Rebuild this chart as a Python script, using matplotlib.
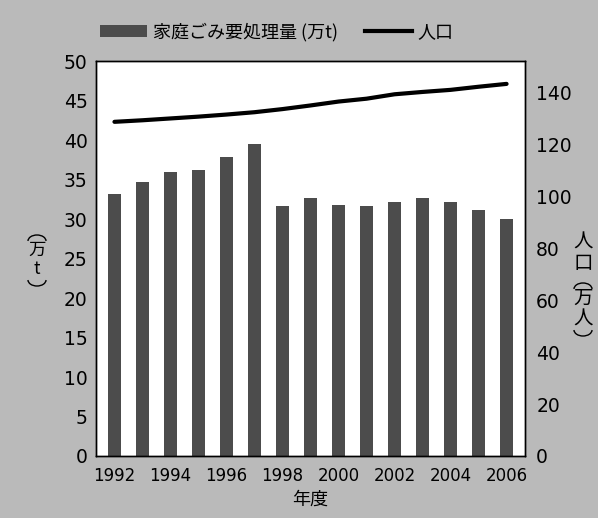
import numpy as np
import matplotlib
matplotlib.use('Agg')
import matplotlib.pyplot as plt
from matplotlib.patches import Patch, Arc
from matplotlib.lines import Line2D

plt.rcParams['font.family'] = ['DejaVu Sans', 'Noto Sans CJK JP']

# data
years = list(range(1992, 2007))
garbage = [33.2, 34.7, 35.9, 36.2, 37.8, 39.5, 31.7, 32.6, 31.8, 31.6,
           32.2, 32.7, 32.2, 31.1, 30.0]
population = [128.6, 129.2, 129.9, 130.6, 131.4, 132.3, 133.5, 134.9, 136.4,
              137.5, 139.2, 140.1, 140.9, 142.1, 143.2]
xtick_years = [1992, 1994, 1996, 1998, 2000, 2002, 2004, 2006]

bg = '#bababa'
bar_color = '#4c4c4c'
jp = ['Noto Sans CJK JP', 'DejaVu Sans']
W, H = 598, 518

fig = plt.figure(figsize=(W / 100, H / 100), dpi=100, facecolor=bg)
ax = fig.add_axes([0.1605, 0.1197, 0.7175, 0.7625])
ax.set_facecolor('white')

x = np.arange(len(years))
ax.bar(x, garbage, width=0.46, color=bar_color, zorder=2)
ax.set_xlim(-0.66, 14.66)
ax.set_ylim(0, 50)
ax.set_yticks(range(0, 51, 5))
ax.set_xticks([years.index(y) for y in xtick_years])
ax.set_xticklabels([str(y) for y in xtick_years])
ax.tick_params(axis='both', length=0)
ax.tick_params(axis='y', pad=6, labelsize=13.5)
ax.tick_params(axis='x', pad=8, labelsize=12)
for s in ax.spines.values():
    s.set_linewidth(1.0)
    s.set_color('black')

ax2 = ax.twinx()
ax2.plot(x, population, color='black', linewidth=3, solid_capstyle='round', zorder=3)
ax2.set_ylim(0, 152)
ax2.set_yticks(range(0, 141, 20))
ax2.tick_params(axis='y', length=0, labelsize=13.5, pad=8)
for s in ax2.spines.values():
    s.set_linewidth(1.0)

ax.set_xlabel('年度', fontsize=13, labelpad=4, family=jp)


def px(xp, yp):
    return xp / W, 1 - yp / H


def char(xp, yp, ch, size):
    fig.text(*px(xp, yp), ch, ha='center', va='center', fontsize=size, family=jp)


def paren(xp, yp, top):
    # vertical-writing bracket drawn as a half ellipse
    a = Arc(px(xp, yp), 18 / W, 12 / H, theta1=0 if top else 180,
            theta2=180 if top else 360, transform=fig.transFigure,
            color='black', linewidth=1.0)
    fig.add_artist(a)


# left axis label: (万t) written vertically
paren(37, 241, True)
char(37, 250, '万', 12.5)
char(37, 269, 't', 12.5)
paren(37, 280, False)

# right axis label: 人口(万人) written vertically
char(583, 242, '人', 14)
char(583, 263, '口', 14)
paren(583, 289, True)
char(583, 298, '万', 14)
char(583, 319, '人', 14)
paren(583, 330, False)

handles = [Patch(facecolor=bar_color, edgecolor='none'),
           Line2D([], [], color='black', linewidth=3)]
labels = ['家庭ごみ要処理量 (万t)', '人口']
fig.legend(handles, labels, loc='center', bbox_to_anchor=(0.463, 0.938), ncol=2,
           frameon=False, handlelength=2.6, handleheight=0.6,
           handletextpad=0.3, columnspacing=1.5,
           prop={'family': jp, 'size': 13})

fig.savefig('out.png', dpi=100, facecolor=bg)
